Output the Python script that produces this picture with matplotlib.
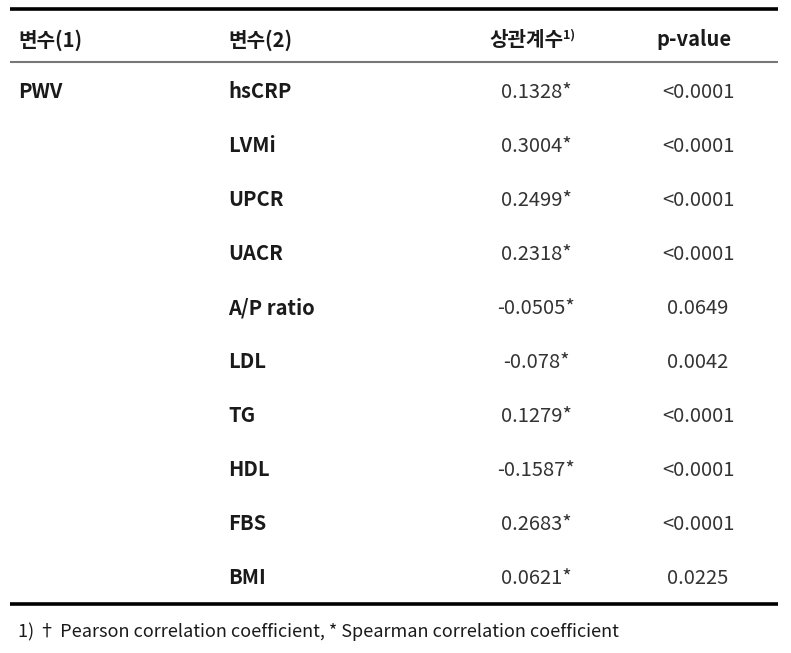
import matplotlib
matplotlib.use("Agg")
import matplotlib.pyplot as plt

plt.rcParams["font.family"] = ["Noto Sans CJK KR", "DejaVu Sans"]

# table content
headers = ["변수(1)", "변수(2)", "상관계수", "p-value"]
group_label = "PWV"
variables = ["hsCRP", "LVMi", "UPCR", "UACR", "A/P ratio", "LDL", "TG", "HDL", "FBS", "BMI"]
coefs = ["0.1328*", "0.3004*", "0.2499*", "0.2318*", "-0.0505*", "-0.078*", "0.1279*",
         "-0.1587*", "0.2683*", "0.0621*"]
pvalues = ["<0.0001", "<0.0001", "<0.0001", "<0.0001", "0.0649", "0.0042", "<0.0001",
           "<0.0001", "<0.0001", "0.0225"]
footnote = "1) \u2020 Pearson correlation coefficient, * Spearman correlation coefficient"

W, H = 791, 653
fig = plt.figure(figsize=(W / 100, H / 100), dpi=100)
ax = fig.add_axes([0, 0, 1, 1])
ax.set_xlim(0, W)
ax.set_ylim(H, 0)
ax.axis("off")

fs = 14.5
txt_color = "#1a1a1a"
num_color = "#333333"
col_x = [18, 228, 536, 698]

# rules
ax.plot([10, 778], [9, 9], color="black", lw=2.6, solid_capstyle="butt")
ax.plot([10, 778], [62, 62], color="#777777", lw=1.5, solid_capstyle="butt")
ax.plot([10, 778], [604, 604], color="black", lw=2.6, solid_capstyle="butt")

# header
header_y = 40
ax.text(col_x[0], header_y, headers[0], fontsize=fs, fontweight="bold", ha="left", va="center", color=txt_color)
ax.text(col_x[1], header_y, headers[1], fontsize=fs, fontweight="bold", ha="left", va="center", color=txt_color)
ax.text(col_x[2] - 10, header_y, headers[2], fontsize=fs, fontweight="bold", ha="center", va="center", color=txt_color)
ax.text(col_x[2] + 27, header_y - 5, "1)", fontsize=9, fontweight="bold", ha="left", va="center", color=txt_color)
ax.text(col_x[3] - 4, header_y, headers[3], fontsize=fs, fontweight="bold", ha="center", va="center", color=txt_color)

# rows
row0, step = 92, 54
ax.text(col_x[0], row0, group_label, fontsize=fs, fontweight="bold", ha="left", va="center", color=txt_color)
for i, (v, c, p) in enumerate(zip(variables, coefs, pvalues)):
    y = row0 + i * step
    ax.text(col_x[1], y, v, fontsize=fs, fontweight="bold", ha="left", va="center", color=txt_color)
    ax.text(col_x[2], y, c, fontsize=fs, ha="center", va="center", color=num_color)
    ax.text(col_x[3], y, p, fontsize=fs, ha="center", va="center", color=num_color)

ax.text(18, 632, footnote, fontsize=13, ha="left", va="center", color=txt_color)

fig.savefig("out.png", dpi=100, facecolor="white")
